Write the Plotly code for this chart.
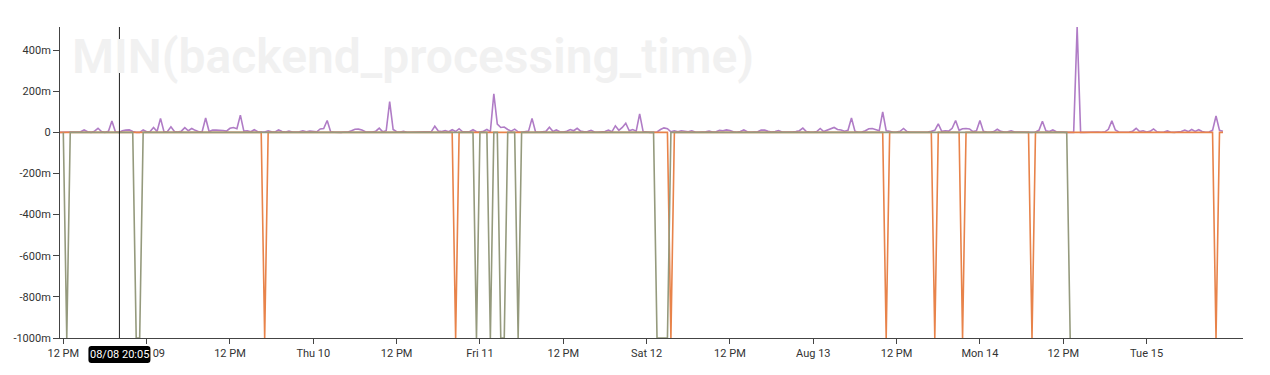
import pandas as pd
import plotly.graph_objects as go

# ---------------- data ----------------
START = "2023-08-08 11:30"
N_POINTS = 336
STEP = "30min"
times = pd.date_range(START, periods=N_POINTS, freq=STEP)

# MIN(backend_processing_time), series 1 (purple), in milliseconds
purple_ms = [
    0, 0, 0, 0, 0, 0, 3, 12, 3, 0, 6, 20, 4, 0, 5, 55, 3, 0, 8, 11, 12, 4, 0, 0,
    12, 3, 4, 24, 4, 68, 3, 4, 27, 4, 2, 6, 23, 8, 19, 10, 3, 4, 70, 4, 11, 11, 11, 9,
    6, 20, 24, 18, 84, 6, 8, 3, 13, 3, 2, 2, 8, 3, 2, 12, 4, 2, 6, 2, 2, 3, 8, 3,
    6, 3, 3, 17, 19, 58, 3, 1, 0, 0, 2, 2, 8, 15, 16, 12, 3, 1, 2, 6, 21, 3, 8, 150,
    14, 3, 2, 5, 1, 1, 1, 2, 1, 2, 3, 4, 30, 7, 4, 9, 3, 13, 4, 18, 3, 2, 3, 13,
    3, 2, 6, 14, 4, 188, 40, 24, 26, 14, 6, 16, 3, 1, 2, 6, 68, 3, 1, 2, 5, 25, 5, 12,
    3, 2, 6, 14, 8, 20, 6, 3, 4, 10, 2, 1, 2, 4, 11, 3, 32, 10, 24, 45, 8, 14, 6, 90,
    4, 1, 0, 0, 2, 14, 22, 18, 3, 8, 3, 8, 4, 3, 8, 2, 1, 1, 3, 6, 2, 3, 10, 8,
    12, 9, 3, 1, 4, 12, 3, 1, 1, 3, 11, 11, 5, 2, 4, 9, 2, 1, 1, 2, 4, 8, 21, 4,
    2, 1, 4, 19, 4, 10, 18, 24, 14, 12, 6, 10, 70, 6, 1, 2, 8, 18, 19, 12, 8, 100, 8, 5,
    1, 2, 5, 19, 4, 1, 1, 1, 2, 1, 2, 5, 10, 42, 5, 8, 6, 20, 58, 10, 18, 19, 17, 4,
    8, 58, 5, 2, 1, 4, 15, 5, 2, 3, 8, 2, 1, 0, 1, 1, 0, 2, 10, 54, 8, 4, 12, 3,
    1, 0, 0, 0, 0, 512, 0, 0, 1, 0, 1, 2, 1, 3, 15, 56, 12, 2, 1, 1, 2, 6, 20, 4,
    8, 2, 5, 17, 3, 1, 2, 7, 1, 0, 2, 4, 11, 4, 14, 5, 13, 4, 1, 2, 10, 80, 10, 6,
]

# series 2 (orange), in seconds
orange_s = [
    0, 0, 0, 0, 0, 0, 0, 0, 0, 0, 0, 0, 0, 0, 0, 0, 0, 0, 0, 0, 0, 0, 0, 0,
    0, 0, 0, 0, 0, 0, 0, 0, 0, 0, 0, 0, 0, 0, 0, 0, 0, 0, 0, 0, 0, 0, 0, 0,
    0, 0, 0, 0, 0, 0, 0, 0, 0, 0, 0, -1, 0, 0, 0, 0, 0, 0, 0, 0, 0, 0, 0, 0,
    0, 0, 0, 0, 0, 0, 0, 0, 0, 0, 0, 0, 0, 0, 0, 0, 0, 0, 0, 0, 0, 0, 0, 0,
    0, 0, 0, 0, 0, 0, 0, 0, 0, 0, 0, 0, 0, 0, 0, 0, 0, 0, -1, 0, 0, 0, 0, 0,
    0, 0, 0, 0, 0, 0, 0, 0, 0, 0, 0, 0, 0, 0, 0, 0, 0, 0, 0, 0, 0, 0, 0, 0,
    0, 0, 0, 0, 0, 0, 0, 0, 0, 0, 0, 0, 0, 0, 0, 0, 0, 0, 0, 0, 0, 0, 0, 0,
    0, 0, 0, 0, 0, 0, 0, 0, -1, 0, 0, 0, 0, 0, 0, 0, 0, 0, 0, 0, 0, 0, 0, 0,
    0, 0, 0, 0, 0, 0, 0, 0, 0, 0, 0, 0, 0, 0, 0, 0, 0, 0, 0, 0, 0, 0, 0, 0,
    0, 0, 0, 0, 0, 0, 0, 0, 0, 0, 0, 0, 0, 0, 0, 0, 0, 0, 0, 0, 0, 0, -1, 0,
    0, 0, 0, 0, 0, 0, 0, 0, 0, 0, 0, 0, -1, 0, 0, 0, 0, 0, 0, 0, -1, 0, 0, 0,
    0, 0, 0, 0, 0, 0, 0, 0, 0, 0, 0, 0, 0, 0, 0, 0, -1, 0, 0, 0, 0, 0, 0, 0,
    0, 0, 0, 0, 0, 0, 0, 0, 0, 0, 0, 0, 0, 0, 0, 0, 0, 0, 0, 0, 0, 0, 0, 0,
    0, 0, 0, 0, 0, 0, 0, 0, 0, 0, 0, 0, 0, 0, 0, 0, 0, 0, 0, 0, 0, -1, 0, 0,
]

# series 3 (olive), in seconds
olive_s = [
    None, 0, -1, 0, 0, 0, 0, 0, 0, 0, 0, 0, 0, 0, 0, 0, 0, 0, 0, 0, 0, 0, -1, -1,
    0, 0, 0, 0, 0, 0, 0, 0, 0, 0, 0, 0, 0, 0, 0, 0, 0, 0, 0, 0, 0, 0, 0, 0,
    0, 0, 0, 0, 0, 0, 0, 0, 0, 0, 0, 0, 0, 0, 0, 0, 0, 0, 0, 0, 0, 0, 0, 0,
    0, 0, 0, 0, 0, 0, 0, 0, 0, 0, 0, 0, 0, 0, 0, 0, 0, 0, 0, 0, 0, 0, 0, 0,
    0, 0, 0, 0, 0, 0, 0, 0, 0, 0, 0, 0, 0, 0, 0, 0, 0, 0, 0, 0, 0, 0, 0, 0,
    -1, 0, 0, 0, -1, 0, 0, -1, -1, 0, 0, 0, -1, 0, 0, 0, 0, 0, 0, 0, 0, 0, 0, 0,
    0, 0, 0, 0, 0, 0, 0, 0, 0, 0, 0, 0, 0, 0, 0, 0, 0, 0, 0, 0, 0, 0, 0, 0,
    0, 0, 0, 0, -1, -1, -1, -1, 0, 0, 0, 0, 0, 0, 0, 0, 0, 0, 0, 0, 0, 0, 0, 0,
    0, 0, 0, 0, 0, 0, 0, 0, 0, 0, 0, 0, 0, 0, 0, 0, 0, 0, 0, 0, 0, 0, 0, 0,
    0, 0, 0, 0, 0, 0, 0, 0, 0, 0, 0, 0, 0, 0, 0, 0, 0, 0, 0, 0, 0, 0, 0, 0,
    0, 0, 0, 0, 0, 0, 0, 0, 0, 0, 0, 0, 0, 0, 0, 0, 0, 0, 0, 0, 0, 0, 0, 0,
    0, 0, 0, 0, 0, 0, 0, 0, 0, 0, 0, 0, 0, 0, 0, 0, 0, 0, 0, 0, 0, 0, 0, 0,
    0, 0, 0, -1, None, None, None, None, None, None, None, None, None, None, None, None, None, None, None, None, None, None, None, None,
    None, None, None, None, None, None, None, None, None, None, None, None, None, None, None, None, None, None, None, None, None, None, None, None,
]

X_TICKS = [
    "2023-08-08 12:00", "2023-08-09 00:00", "2023-08-09 12:00", "2023-08-10 00:00",
    "2023-08-10 12:00", "2023-08-11 00:00", "2023-08-11 12:00", "2023-08-12 00:00",
    "2023-08-12 12:00", "2023-08-13 00:00", "2023-08-13 12:00", "2023-08-14 00:00",
    "2023-08-14 12:00", "2023-08-15 00:00",
]
X_TICK_TEXT = [
    "12 PM", "Wed 09", "12 PM", "Thu 10", "12 PM", "Fri 11", "12 PM", "Sat 12",
    "12 PM", "Aug 13", "12 PM", "Mon 14", "12 PM", "Tue 15",
]
Y_TICKS = [-1.0, -0.8, -0.6, -0.4, -0.2, 0.0, 0.2, 0.4]
Y_TICK_TEXT = ["-1000m", "-800m", "-600m", "-400m", "-200m", "0", "200m", "400m"]

TITLE = "MIN(backend_processing_time)"
CURSOR_TIME = "2023-08-08 20:05"
CURSOR_LABEL = "08/08 20:05"

X_RANGE = ["2023-08-08 11:31:30", "2023-08-15 13:53:06"]
Y_RANGE = [-1.0, 0.5126]

# ---------------- figure ----------------
PURPLE = "#b07cc6"
ORANGE = "#e8834a"
OLIVE = "#959a7d"

fig = go.Figure()
fig.add_trace(go.Scatter(x=times, y=[v / 1000 for v in purple_ms], mode="lines",
                         line=dict(color=PURPLE, width=1.6), hoverinfo="skip"))
fig.add_trace(go.Scatter(x=times, y=orange_s, mode="lines",
                         line=dict(color=ORANGE, width=1.6), hoverinfo="skip"))
fig.add_trace(go.Scatter(x=times, y=olive_s, mode="lines", connectgaps=False,
                         line=dict(color=OLIVE, width=1.6), hoverinfo="skip"))

# the page body has an 8px margin, so the figure is placed at (8, 8)
PLOT_W = 1183
axis_color = "#444444"
fig.update_layout(
    width=1262, height=367,
    margin=dict(l=52, r=27, t=19, b=37, pad=0, autoexpand=False),
    paper_bgcolor="white", plot_bgcolor="white",
    showlegend=False,
    font=dict(family="Roboto, sans-serif", size=11, color="#333333"),
    xaxis=dict(
        type="date", range=X_RANGE, showgrid=False, zeroline=False, automargin=False,
        showline=True, linecolor=axis_color, linewidth=1,
        ticks="outside", ticklen=5, tickcolor=axis_color, tickwidth=1,
        tickmode="array", tickvals=X_TICKS, ticktext=X_TICK_TEXT, tickangle=0,
        fixedrange=True,
    ),
    yaxis=dict(
        range=Y_RANGE, showgrid=False, zeroline=False, automargin=False,
        showline=True, linecolor=axis_color, linewidth=1,
        ticks="outside", ticklen=6, tickcolor=axis_color, tickwidth=1,
        tickmode="array", tickvals=Y_TICKS, ticktext=Y_TICK_TEXT,
        fixedrange=True,
    ),
)

# watermark title
fig.add_annotation(
    text=TITLE, xref="paper", yref="paper",
    x=10 / PLOT_W, y=0.905, xanchor="left", yanchor="middle",
    showarrow=False,
    font=dict(family="Roboto, sans-serif", size=48, color="#f1f1f1", weight=600),
)

# hover cursor line
fig.add_shape(type="line", xref="x", yref="paper", x0=CURSOR_TIME, x1=CURSOR_TIME,
              y0=0, y1=1, line=dict(color="#222222", width=1), layer="above")

# cursor label (rounded black box)
t0 = pd.Timestamp(X_RANGE[0])
t1 = pd.Timestamp(X_RANGE[1])
cx = (pd.Timestamp(CURSOR_TIME) - t0) / (t1 - t0)
box = ("M -28,-8 L 28,-8 Q 31,-8 31,-11 L 31,-22 Q 31,-25 28,-25 "
       "L -28,-25 Q -31,-25 -31,-22 L -31,-11 Q -31,-8 -28,-8 Z")
fig.add_shape(type="path", xref="paper", yref="paper", xsizemode="pixel", ysizemode="pixel",
              xanchor=cx, yanchor=0, path=box, fillcolor="black",
              line=dict(width=0), layer="above")
fig.add_annotation(text=CURSOR_LABEL, xref="paper", yref="paper", x=cx, y=0,
                   xanchor="center", yanchor="middle", yshift=-16.5, showarrow=False,
                   font=dict(family="Roboto, sans-serif", size=11, color="white"))

fig.write_html("out.html")
